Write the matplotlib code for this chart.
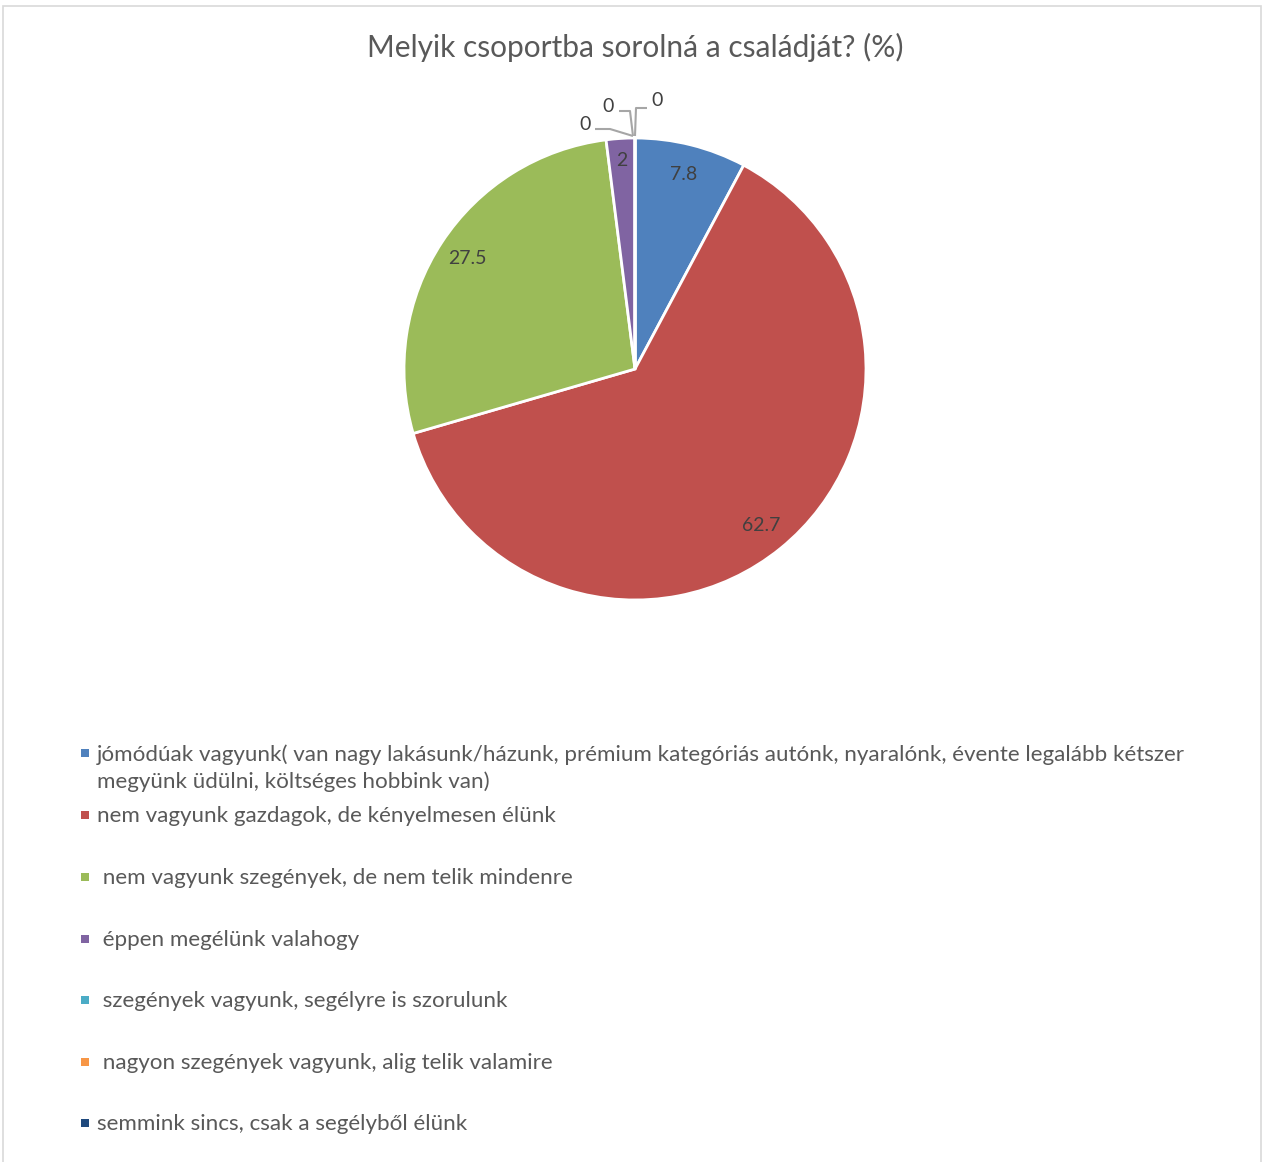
import matplotlib
matplotlib.use("Agg")
import matplotlib.pyplot as plt
from matplotlib.patches import Rectangle
import numpy as np

plt.rcParams['font.family'] = ['Lato', 'DejaVu Sans']

title = "Melyik csoportba sorolná a családját? (%)"
categories = [
    "jómódúak vagyunk( van nagy lakásunk/házunk, prémium kategóriás autónk, nyaralónk, évente legalább kétszer\nmegyünk üdülni, költséges hobbink van)",
    "nem vagyunk gazdagok, de kényelmesen élünk",
    " nem vagyunk szegények, de nem telik mindenre",
    " éppen megélünk valahogy",
    " szegények vagyunk, segélyre is szorulunk",
    " nagyon szegények vagyunk, alig telik valamire",
    "semmink sincs, csak a segélyből élünk",
]
values = [7.8, 62.7, 27.5, 2, 0, 0, 0]
value_labels = ["7.8", "62.7", "27.5", "2", "0", "0", "0"]
colors = ["#4F81BD", "#C0504D", "#9BBB59", "#8064A2", "#4BACC6", "#F79646", "#1F497D"]

W, H = 1264, 1162
fig = plt.figure(figsize=(W / 100, H / 100), dpi=100)

# border
fig.patches.append(Rectangle((3 / W, -0.01), (1261 - 3) / W, 1 - 6 / H + 0.01,
                             transform=fig.transFigure, fill=False,
                             edgecolor="#D9D9D9", linewidth=1.2))

cx, cy, R = 635, 369, 231
ax = fig.add_axes([(cx - R) / W, (H - cy - R) / H, 2 * R / W, 2 * R / H])

wedges, _ = ax.pie(values, colors=colors, startangle=90, counterclock=False,
                   radius=1, wedgeprops=dict(edgecolor="white", linewidth=2))
ax.set_xlim(-1, 1)
ax.set_ylim(-1, 1)
ax.axis("off")
for w in wedges:
    w.set_clip_on(False)

lab_col = "#404040"
for w, lab, v in zip(wedges, value_labels, values):
    if v <= 0:
        continue
    ang = np.deg2rad((w.theta1 + w.theta2) / 2)
    d = 0.87 if v > 5 else 0.905
    ax.text(d * np.cos(ang), d * np.sin(ang), lab, ha="center", va="center",
            fontsize=14, color=lab_col)

# zero-value labels with leader lines
zero_idx = [i for i, v in enumerate(values) if v <= 0]
anchor_ang = np.deg2rad(wedges[zero_idx[0]].theta1)
ax0, ay0 = np.cos(anchor_ang), np.sin(anchor_ang)
px = 1 / R
offsets = [  # (text dx, dy, line points) in pixel offsets from anchor
    ((-50, 14), [(-40, 9), (-25, 9), (-2, 2)]),
    ((-27, 32), [(-16, 27), (-5, 27), (-2, 2)]),
    ((22, 37), [(12, 30), (1, 30), (0, 2)]),
]
for (tdx, tdy), pts in offsets:
    xs = [ax0 + p[0] * px for p in pts]
    ys = [ay0 + p[1] * px for p in pts]
    ax.plot(xs, ys, color="#A6A6A6", linewidth=1.5, clip_on=False,
            solid_capstyle="butt")
    ax.text(ax0 + tdx * px, ay0 + tdy * px, "0", ha="center", va="center",
            fontsize=14, color=lab_col)

fig.text(635 / W, 1 - 47 / H, title, ha="center", va="center",
         fontsize=21.5, color="#595959")

# legend
leg_y = [753, 815, 877, 939, 1000, 1062, 1123]
for lab, col, y in zip(categories, colors, leg_y):
    fig.patches.append(Rectangle(((85 - 4) / W, 1 - (y + 4) / H), 8 / W, 8 / H,
                                 transform=fig.transFigure, facecolor=col,
                                 edgecolor="none"))
    fig.text(97 / W, 1 - (y - 9) / H, lab, ha="left", va="top",
             fontsize=16.1, color="#595959", linespacing=1.4)

fig.savefig("out.png", dpi=100, facecolor="white")
